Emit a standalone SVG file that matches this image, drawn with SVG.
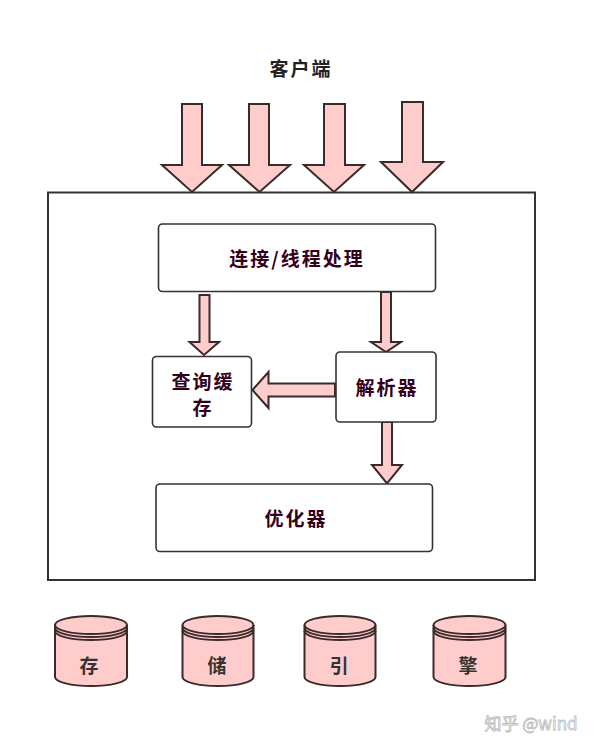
<svg xmlns="http://www.w3.org/2000/svg" width="596" height="747" viewBox="0 0 596 747">
<style>
.box{fill:#fff;stroke:#333;stroke-width:1.6}
.arr{fill:#ffcccc;stroke:#3a2a2a;stroke-width:2;stroke-linejoin:miter}
.lbl{font-family:"Noto Sans CJK SC","Noto Sans",sans-serif;font-size:19px;font-weight:bold;fill:#33001a;text-anchor:middle;dominant-baseline:central;letter-spacing:2px}
.cyl{fill:#ffcccc;stroke:#3a2a2a;stroke-width:2}
.clbl{font-family:"Noto Sans CJK SC","Noto Sans",sans-serif;font-size:19px;font-weight:bold;fill:#333;text-anchor:middle;dominant-baseline:central}
</style>
<rect width="596" height="747" fill="#fff"/>
<text x="301" y="67" class="lbl" style="fill:#222">客户端</text>
<g id="server">
<rect x="48" y="192.5" width="487" height="387.5" fill="#fff" stroke="#333" stroke-width="2"/>
</g>
<g id="connectors">
<polygon class="arr" points="182,104 202,104 202,165 222,165 192,192 162,165 182,165"/>
<polygon class="arr" points="249,104 269,104 269,165 290,165 259.5,192 229,165 249,165"/>
<polygon class="arr" points="324,104 345,104 345,165 364,165 334,192 304,165 324,165"/>
<polygon class="arr" points="402,102 423,102 423,162 443,162 412,192 381,162 402,162"/>
<polygon class="arr" points="199.5,295 209.5,295 209.5,342 219,342 204,355 189.5,342 199.5,342"/>
<polygon class="arr" points="381,292 391,292 391,342 401,342 386,352 371,342 381,342"/>
<polygon class="arr" points="335,383.5 268.5,383.5 268.5,372 252.5,390 268.5,408 268.5,396.5 335,396.5"/>
<polygon class="arr" points="382,422 392,422 392,465 402,465 387,483.5 372,465 382,465"/>
</g>
<g id="conn-thread">
<rect x="158.5" y="224" width="277" height="67.5" rx="4" class="box"/>
<text x="297" y="257" class="lbl">连接/线程处理</text>
</g>
<g id="query-cache">
<rect x="152.5" y="356.5" width="99" height="70.5" rx="4" class="box"/>
<text x="203" y="380" class="lbl">查询缓</text>
<text x="203" y="406" class="lbl">存</text>
</g>
<g id="parser">
<rect x="336" y="352" width="100" height="70" rx="4" class="box"/>
<text x="387" y="386" class="lbl">解析器</text>
</g>
<g id="optimizer">
<rect x="156" y="484" width="276.5" height="67.5" rx="4" class="box"/>
<text x="296" y="517" class="lbl">优化器</text>
</g>
<g id="cyl1">
<path class="cyl" d="M55,625 L55,677 A36,9 0 0 0 127,677 L127,625"/>
<ellipse class="cyl" cx="91" cy="625" rx="36" ry="9"/>
<path d="M55,628 A36,9 0 0 0 127,628 M55,631 A36,9 0 0 0 127,631" fill="none" stroke="#3a2a2a" stroke-width="2"/>
<text x="89" y="664" class="clbl">存</text>
</g>
<g id="cyl2">
<path class="cyl" d="M182.5,625 L182.5,677 A35.5,9 0 0 0 253.5,677 L253.5,625"/>
<ellipse class="cyl" cx="218" cy="625" rx="35.5" ry="9"/>
<path d="M182.5,628 A35.5,9 0 0 0 253.5,628 M182.5,631 A35.5,9 0 0 0 253.5,631" fill="none" stroke="#3a2a2a" stroke-width="2"/>
<text x="217" y="664" class="clbl">储</text>
</g>
<g id="cyl3">
<path class="cyl" d="M304.5,625 L304.5,677 A35.5,9 0 0 0 375.5,677 L375.5,625"/>
<ellipse class="cyl" cx="340" cy="625" rx="35.5" ry="9"/>
<path d="M304.5,628 A35.5,9 0 0 0 375.5,628 M304.5,631 A35.5,9 0 0 0 375.5,631" fill="none" stroke="#3a2a2a" stroke-width="2"/>
<text x="339" y="664" class="clbl">引</text>
</g>
<g id="cyl4">
<path class="cyl" d="M433.5,625 L433.5,677 A36,9 0 0 0 505.5,677 L505.5,625"/>
<ellipse class="cyl" cx="469.5" cy="625" rx="36" ry="9"/>
<path d="M433.5,628 A36,9 0 0 0 505.5,628 M433.5,631 A36,9 0 0 0 505.5,631" fill="none" stroke="#3a2a2a" stroke-width="2"/>
<text x="468" y="664" class="clbl">擎</text>
</g>
<text x="531" y="722" font-family="'Noto Sans CJK SC','Noto Sans',sans-serif" font-size="17" fill="#fff" stroke="#bbb" stroke-width="0.8" text-anchor="middle" dominant-baseline="central">知乎 @wind</text>
</svg>
